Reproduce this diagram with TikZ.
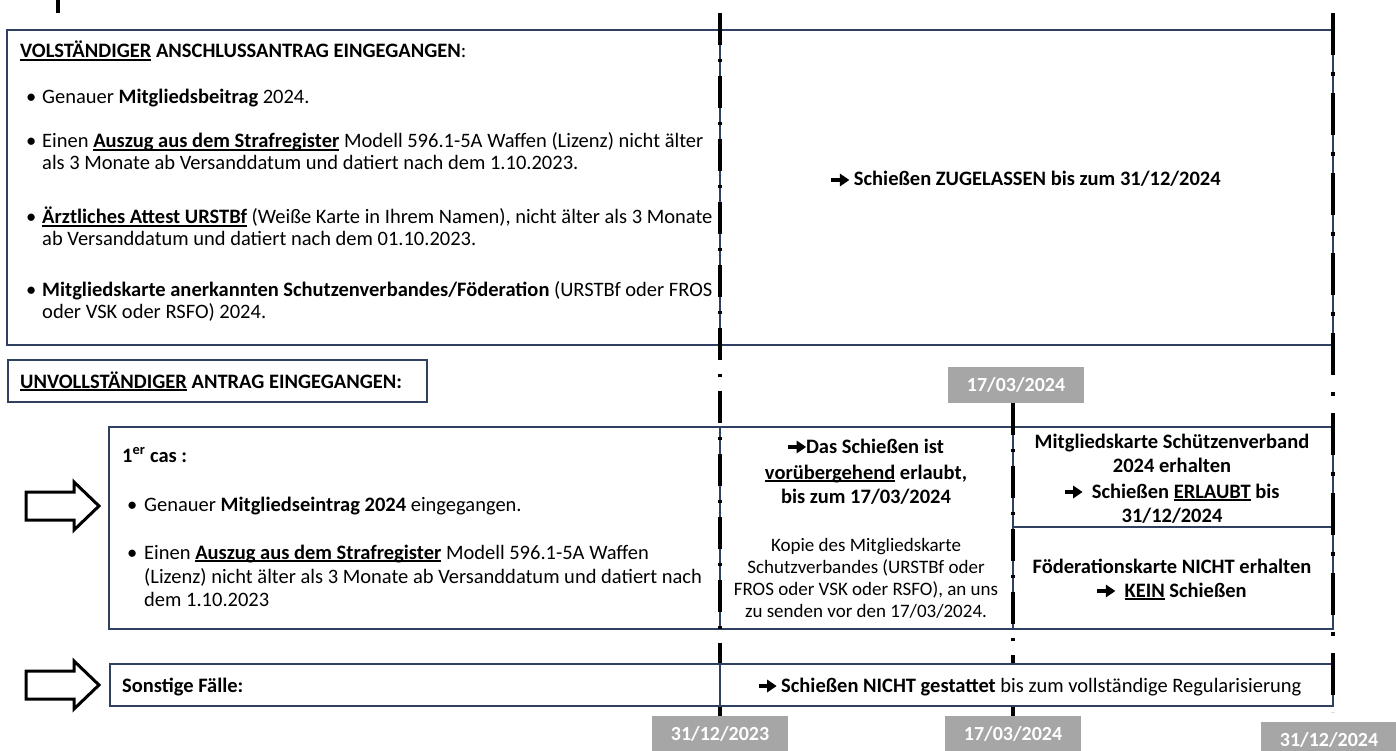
\documentclass[tikz,border=0pt]{standalone}
\usepackage{fontspec}
\setmainfont{Carlito}
\newsavebox\ulbox
\newcommand\ull[1]{\sbox\ulbox{#1}\rlap{\rule[-2.6pt]{\wd\ulbox}{1.2pt}}\usebox\ulbox}
\newcommand\arr{\tikz[x=1pt,y=1pt,baseline=0pt]{\fill[black] (0,3.6) rectangle (10,8.4); \fill[black] (8.5,-0.5) -- (18,6) -- (8.5,12.5) -- cycle;}}
\definecolor{boxblue}{HTML}{2F4060}
\definecolor{dategray}{HTML}{A6A6A6}
\tikzset{
  box/.style={draw=boxblue, line width=1.4pt},
  tlA/.style={line width=4pt, dash pattern=on 32pt off 14pt on 3pt off 14pt},
  tlB/.style={line width=4.5pt, dash pattern=on 42pt off 17pt on 4pt off 17pt},
  txt/.style={anchor=base west, inner sep=0pt, font=\fontsize{20.5}{22}\selectfont},
  ctxt/.style={anchor=base, inner sep=0pt, font=\fontsize{20.5}{22}\selectfont},
  stxt/.style={anchor=base, inner sep=0pt, font=\fontsize{19}{20}\selectfont},
  datebox/.style={fill=dategray, text=white, font=\fontsize{20}{20}\selectfont\bfseries, minimum width=136pt, minimum height=36pt, inner sep=0pt},
  hollow/.style={draw=black, fill=white, line width=3pt, line join=miter}
}
\begin{document}
\begin{tikzpicture}[x=1pt,y=-1pt]
\useasboundingbox (0,0) rectangle (1396,751);
\clip (0,0) rectangle (1396,751);
% top-left tick
\coordinate (tk1) at (58,0); \coordinate (tk2) at (58,13);
\draw[line width=4pt] (tk1) -- (tk2);
% boxes
\draw[box] (7,30) rectangle (1333,345);
\draw[box] (720,30) -- (720,345);
\draw[box] (8,360) rectangle (427,402);
\draw[box] (109,427) rectangle (1333,629);
\draw[box] (720,427) -- (720,629);
\draw[box] (1013,427) -- (1013,629);
\draw[box] (1013,527) -- (1333,527);
\draw[box] (110,664) rectangle (1333,706);
\draw[box] (720,664) -- (720,706);
% hollow arrows
\draw[hollow] (26,492) -- (74,492) -- (74,482) -- (99,506) -- (74,530) -- (74,520) -- (26,520) -- cycle;
\draw[hollow] (26,671) -- (74,671) -- (74,661) -- (99,685) -- (74,709) -- (74,699) -- (26,699) -- cycle;
% date boxes
\node[datebox] (d0) at (1016,385) {17/03/2024};
\node[datebox] (d1) at (720,734) {31/12/2023};
\node[datebox] (d2) at (1013,734) {17/03/2024};
\node[datebox] (d3) at (1329,740) {31/12/2024};
% timeline lines
\coordinate (l1top) at (720,13);
\coordinate (l1mid) at (720,663);
\coordinate (l1low) at (720,707);
\coordinate (l2mid) at (1013,663);
\coordinate (l2low) at (1013,707);
\coordinate (l3top) at (1333,13);
\coordinate (l3bot) at (1333,712);
\draw[tlA] (l1top) -- (l1mid);
\draw[tlA] (l1low) -- (d1.north);
\draw[tlA] (d0.south -| d2.north) -- (l2mid);
\draw[tlA] (l2low) -- (d2.north);
\draw[tlB] (l3top) -- (l3bot);
% top box text
\node[txt] (h1) at (20,58) {\textbf{\ull{VOLSTÄNDIGER} ANSCHLUSSANTRAG EINGEGANGEN}:};
\node[txt] (b1) at (26,104) {•};
\node[txt] (a1) at (42,104) {Genauer \textbf{Mitgliedsbeitrag} 2024.};
\node[txt] (b2) at (26,148) {•};
\node[txt] (a2a) at (42,148) {Einen \textbf{\ull{Auszug aus dem Strafregister}} Modell 596.1-5A Waffen (Lizenz) nicht älter};
\node[txt] (a2b) at (42,170) {als 3 Monate ab Versanddatum und datiert nach dem 1.10.2023.};
\node[txt] (b3) at (26,224) {•};
\node[txt] (a3a) at (42,224) {\textbf{\ull{Ärztliches Attest URSTBf}} (Weiße Karte in Ihrem Namen), nicht älter als 3 Monate};
\node[txt] (a3b) at (42,246) {ab Versanddatum und datiert nach dem 01.10.2023.};
\node[txt] (b4) at (26,296) {•};
\node[txt] (a4a) at (42,296) {\textbf{Mitgliedskarte anerkannten Schutzenverbandes/Föderation} (URSTBf oder FROS};
\node[txt] (a4b) at (42,318) {oder VSK oder RSFO) 2024.};
\node[ctxt] (r1) at (1026,186) {\arr\ \textbf{Schießen ZUGELASSEN bis zum 31/12/2024}};
% unvollstaendig
\node[txt] (h2) at (20,388) {\textbf{\ull{UNVOLLSTÄNDIGER} ANTRAG EINGEGANGEN:}};
\node[txt] (c0) at (122,462) {\textbf{1\textsuperscript{er} cas :}};
\node[txt] (b5) at (127,511) {•};
\node[txt] (c1) at (144,511) {Genauer \textbf{Mitgliedseintrag 2024} eingegangen.};
\node[txt] (b6) at (127,559) {•};
\node[txt] (c2a) at (144,559) {Einen \textbf{\ull{Auszug aus dem Strafregister}} Modell 596.1-5A Waffen};
\node[txt] (c2b) at (144,583) {(Lizenz) nicht älter als 3 Monate ab Versanddatum und datiert nach};
\node[txt] (c2c) at (144,606) {dem 1.10.2023};
% middle cell
\node[ctxt] (m1) at (866,453) {\arr\textbf{Das Schießen ist}};
\node[ctxt] (m2) at (866,479) {\textbf{\ull{vorübergehend} erlaubt,}};
\node[ctxt] (m3) at (866,503) {\textbf{bis zum 17/03/2024}};
\node[stxt] (m4) at (866,551) {Kopie des Mitgliedskarte};
\node[stxt] (m5) at (866,573) {Schutzverbandes (URSTBf oder};
\node[stxt] (m6) at (866,595) {FROS oder VSK oder RSFO), an uns};
\node[stxt] (m7) at (866,617) {zu senden vor den 17/03/2024.};
% right cells
\node[ctxt] (n1) at (1172,448) {\textbf{Mitgliedskarte Schützenverband}};
\node[ctxt] (n2) at (1172,472) {\textbf{2024 erhalten}};
\node[ctxt] (n3) at (1172,498) {\arr\ \ \textbf{Schießen \ull{ERLAUBT} bis}};
\node[ctxt] (n4) at (1172,522) {\textbf{31/12/2024}};
\node[ctxt] (n5) at (1172,573) {\textbf{Föderationskarte NICHT erhalten}};
\node[ctxt] (n6) at (1172,597) {\arr\ \ \textbf{\ull{KEIN} Schießen}};
% sonstige
\node[txt] (s1) at (122,692) {\textbf{Sonstige Fälle:}};
\node[ctxt] (s2) at (1030,692) {\arr\ \textbf{Schießen NICHT gestattet} bis zum vollständige Regularisierung};
\end{tikzpicture}
\end{document}
